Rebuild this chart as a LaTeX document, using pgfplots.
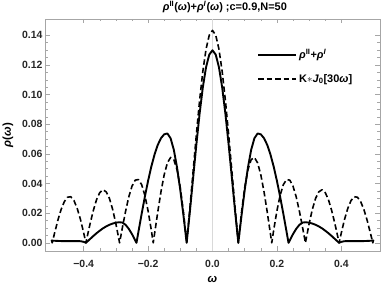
\documentclass[border=0pt]{standalone}
\usepackage{fontspec}
\setmainfont{Liberation Sans}
\usepackage{pgfplots}
\pgfplotsset{compat=1.18}
\begin{document}
\begin{tikzpicture}
\useasboundingbox (0,0) rectangle (382bp,300bp);
\begin{axis}[
  at={(45bp,49bp)}, anchor=south west,
  scale only axis, width=335bp, height=232bp,
  xmin=-0.52, xmax=0.52, ymin=-0.0055, ymax=0.151,
  axis line style={gray!70, line width=0.6pt},
  every tick/.style={gray!70, line width=0.5pt},
  major tick length=4.5bp, minor tick length=2.5bp,
  xtick={-0.4,-0.2,0,0.2,0.4},
  xticklabels={−0.4,−0.2,0.0,0.2,0.4},
  ytick={0,0.02,0.04,0.06,0.08,0.10,0.12,0.14},
  yticklabels={0.00,0.02,0.04,0.06,0.08,0.10,0.12,0.14},
  minor x tick num=3, minor y tick num=3,
  ticklabel style={font=\fontsize{10.5}{12}\selectfont\bfseries, text=black!85},
  xticklabel style={yshift=-6bp},
  yticklabel style={xshift=1bp},
  label style={font=\fontsize{11.5}{13}\selectfont\bfseries},
  xlabel={\textit{ω}}, ylabel={\textit{ρ}(\textit{ω})},
  xlabel style={yshift=-2bp},
  ylabel style={yshift=2bp},
  title={\textit{ρ}\textsuperscript{II}(\textit{ω})+\textit{ρ}\textsuperscript{\textit{I}}(\textit{ω}) ;c=0.9,N=50},
  title style={font=\fontsize{11}{12}\selectfont\bfseries, at={(0.537,1)}, anchor=south, inner sep=0.5bp, yshift=0bp},
  legend cell align=left,
  legend image code/.code={\draw[#1] (0bp,0bp) -- (38bp,0bp);},
  legend style={draw=none, fill=none, at={(0.633,0.878)}, anchor=north west,
    font=\fontsize{11}{12}\selectfont\bfseries, row sep=10bp, inner sep=0pt,
    nodes={inner sep=2bp}},
]
\addplot[gray!30, line width=1.2pt, forget plot] coordinates {(0,-0.0055) (0,0.151)};
\addplot[black, line width=1.9pt, line join=round] coordinates {
(-0.50,0.0015)(-0.49,0.0014)(-0.48,0.0013)(-0.47,0.0012)(-0.46,0.0012)(-0.45,0.0012)(-0.44,0.0012)(-0.43,0.0012)(-0.42,0.0012)(-0.41,0.0011)(-0.40,0.0007)(-0.393,0)
(-0.39,0.0006)(-0.38,0.0026)(-0.37,0.0046)(-0.36,0.0065)(-0.35,0.0082)(-0.34,0.0098)(-0.33,0.0111)(-0.32,0.0122)(-0.31,0.0130)(-0.30,0.0136)(-0.29,0.0139)(-0.28,0.0137)(-0.27,0.0122)(-0.26,0.0095)(-0.25,0.0059)(-0.24,0.0017)(-0.236,0)
(-0.23,0.0074)(-0.22,0.0195)(-0.21,0.0311)(-0.20,0.0418)(-0.19,0.0514)(-0.18,0.0595)(-0.17,0.0660)(-0.16,0.0706)(-0.15,0.0732)(-0.14,0.0738)(-0.13,0.0705)(-0.12,0.0627)(-0.11,0.0508)(-0.10,0.0356)(-0.09,0.0182)(-0.0802,0)
(-0.07,0.0216)(-0.06,0.0442)(-0.05,0.0665)(-0.04,0.0872)(-0.03,0.1049)(-0.02,0.1185)(-0.01,0.1270)(0,0.1299)
(0.01,0.1270)(0.02,0.1185)(0.03,0.1049)(0.04,0.0872)(0.05,0.0665)(0.06,0.0442)(0.07,0.0216)(0.0802,0)
(0.09,0.0182)(0.10,0.0356)(0.11,0.0508)(0.12,0.0627)(0.13,0.0705)(0.14,0.0738)(0.15,0.0732)(0.16,0.0706)(0.17,0.0660)(0.18,0.0595)(0.19,0.0514)(0.20,0.0418)(0.21,0.0311)(0.22,0.0195)(0.23,0.0074)(0.236,0)
(0.24,0.0017)(0.25,0.0059)(0.26,0.0095)(0.27,0.0122)(0.28,0.0137)(0.29,0.0139)(0.30,0.0136)(0.31,0.0130)(0.32,0.0122)(0.33,0.0111)(0.34,0.0098)(0.35,0.0082)(0.36,0.0065)(0.37,0.0046)(0.38,0.0026)(0.39,0.0006)(0.393,0)
(0.40,0.0007)(0.41,0.0011)(0.42,0.0012)(0.43,0.0012)(0.44,0.0012)(0.45,0.0012)(0.46,0.0012)(0.47,0.0012)(0.48,0.0013)(0.49,0.0014)(0.50,0.0015)
};
\addlegendentry{\textit{ρ}\textsuperscript{II}+\textit{ρ}\textsuperscript{\textit{I}}}
\addplot[black, line width=1.6pt, dash pattern=on 5.5bp off 3bp, line join=round] coordinates {
(-0.50,0.0020)(-0.4977,0)(-0.49,0.0068)(-0.48,0.0153)(-0.47,0.0225)(-0.46,0.0278)(-0.45,0.0308)(-0.44,0.0311)(-0.43,0.0285)(-0.42,0.0232)(-0.41,0.0159)(-0.40,0.0068)(-0.393,0)
(-0.39,0.0031)(-0.38,0.0129)(-0.37,0.0218)(-0.36,0.0291)(-0.35,0.0339)(-0.34,0.0358)(-0.33,0.0344)(-0.32,0.0300)(-0.31,0.0226)(-0.30,0.0129)(-0.29,0.0018)(-0.2885,0)
(-0.28,0.0100)(-0.27,0.0211)(-0.26,0.0309)(-0.25,0.0382)(-0.24,0.0423)(-0.23,0.0427)(-0.22,0.0393)(-0.21,0.0321)(-0.20,0.0216)(-0.19,0.0086)(-0.184,0)
(-0.18,0.0059)(-0.17,0.0207)(-0.16,0.0344)(-0.15,0.0459)(-0.14,0.0540)(-0.13,0.0576)(-0.12,0.0561)(-0.11,0.0493)(-0.10,0.0373)(-0.09,0.0204)(-0.0802,0)
(-0.08,0.0004)(-0.07,0.0239)(-0.06,0.0487)(-0.05,0.0733)(-0.04,0.0962)(-0.03,0.1157)(-0.02,0.1307)(-0.01,0.1401)(0,0.1433)
(0.01,0.1401)(0.02,0.1307)(0.03,0.1157)(0.04,0.0962)(0.05,0.0733)(0.06,0.0487)(0.07,0.0239)(0.08,0.0004)(0.0802,0)
(0.09,0.0204)(0.10,0.0373)(0.11,0.0493)(0.12,0.0561)(0.13,0.0576)(0.14,0.0540)(0.15,0.0459)(0.16,0.0344)(0.17,0.0207)(0.18,0.0059)(0.184,0)
(0.19,0.0086)(0.20,0.0216)(0.21,0.0321)(0.22,0.0393)(0.23,0.0427)(0.24,0.0423)(0.25,0.0382)(0.26,0.0309)(0.27,0.0211)(0.28,0.0100)(0.2885,0)
(0.29,0.0018)(0.30,0.0129)(0.31,0.0226)(0.32,0.0300)(0.33,0.0344)(0.34,0.0358)(0.35,0.0339)(0.36,0.0291)(0.37,0.0218)(0.38,0.0129)(0.39,0.0031)(0.393,0)
(0.40,0.0068)(0.41,0.0159)(0.42,0.0232)(0.43,0.0285)(0.44,0.0311)(0.45,0.0308)(0.46,0.0278)(0.47,0.0225)(0.48,0.0153)(0.49,0.0068)(0.4977,0)(0.50,0.0020)
};
\addlegendentry{K$\ast$\textit{J}\textsubscript{0}[30\textit{ω}]}
\end{axis}
\end{tikzpicture}
\end{document}
